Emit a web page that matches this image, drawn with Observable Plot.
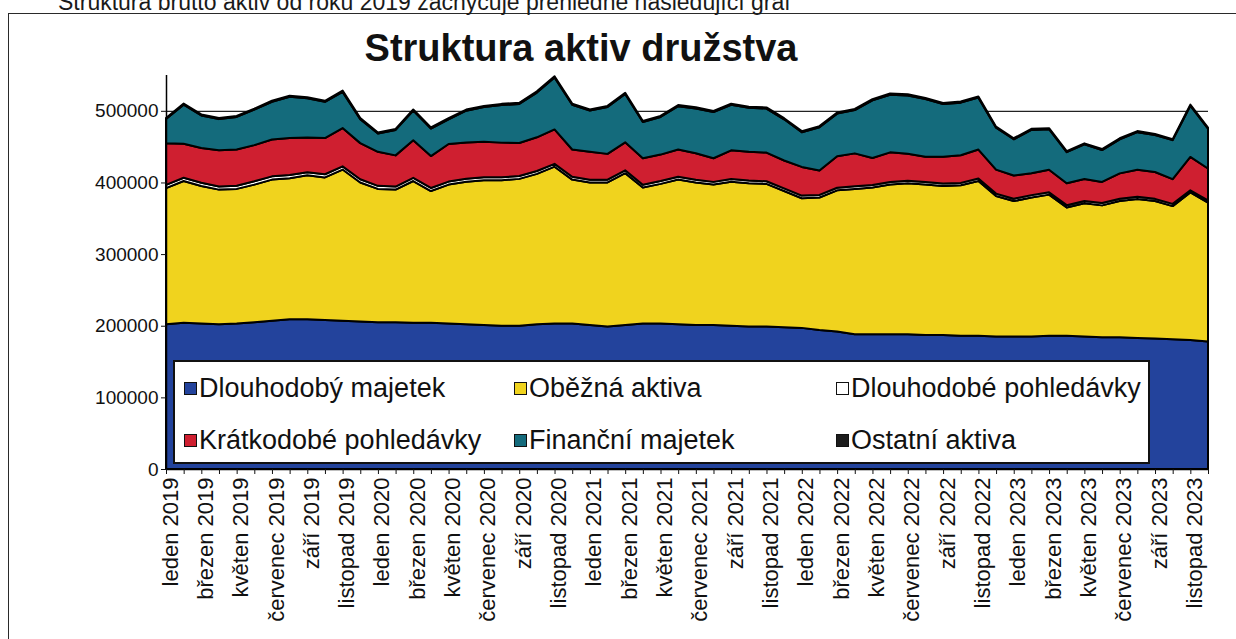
<!DOCTYPE html>
<html>
<head>
<meta charset="utf-8">
<script src="https://cdn.jsdelivr.net/npm/d3@7"></script>
<script src="https://cdn.jsdelivr.net/npm/@observablehq/plot@0.6"></script>
<style>
  html, body { margin: 0; padding: 0; }
  body { width: 1236px; height: 639px; overflow: hidden; background: #fff; position: relative;
         font-family: "Liberation Sans", Arial, sans-serif; color: #111; }
  #chart { position: absolute; left: 0; top: 0; }
  #intro { position: absolute; left: 58px; top: -9px; font-size: 23px; line-height: 1; white-space: nowrap; color: #1a1a1a; }
  #frame { position: absolute; left: 8px; top: 13px; width: 1300px; height: 700px; border: 1.5px solid #2a2a2a; pointer-events: none; }
  #title { position: absolute; left: 581px; top: 29px; transform: translateX(-50%); font-size: 38px; line-height: 1; font-weight: bold; white-space: nowrap; }
  #legend { position: absolute; left: 173px; top: 360px; width: 977px; height: 104px; background: #fff; border: 2px solid #111; box-sizing: border-box; }
  .item { position: absolute; display: flex; align-items: center; font-size: 27px; line-height: 30px; height: 30px; white-space: nowrap; }
  .sw { width: 11px; height: 11px; border: 1.5px solid #111; margin-right: 2px; }
</style>
</head>
<body>
<div id="chart"></div>
<div id="frame"></div>
<div id="intro">Struktura brutto aktiv od roku 2019 zachycuje přehledně následující graf</div>
<div id="title">Struktura aktiv družstva</div>
<div id="legend"></div>
<script>
// ---- Data ----
const monthNames = ["leden", "únor", "březen", "duben", "květen", "červen", "červenec", "srpen", "září", "říjen", "listopad", "prosinec"];
const years = [2019, 2020, 2021, 2022, 2023];
const categories = years.flatMap(y => monthNames.map(m => `${m} ${y}`));

const seriesNames = ["Dlouhodobý majetek", "Oběžná aktiva", "Dlouhodobé pohledávky", "Krátkodobé pohledávky", "Finanční majetek", "Ostatní aktiva"];
const seriesColors = ["#23439c", "#f0d31e", "#ffffff", "#cf1f30", "#146b7c", "#1c1c1c"];

const dlouhodobyMajetek = [
  202000, 204000, 203000, 202000, 203000, 205000, 207000, 209000, 209000, 208000,
  207000, 206000, 205000, 205000, 204000, 204000, 203000, 202000, 201000, 200000,
  200000, 202000, 203000, 203000, 201000, 199000, 201000, 203000, 203000, 202000,
  201000, 201000, 200000, 199000, 199000, 198000, 197000, 194000, 192000, 188000,
  188000, 188000, 188000, 187000, 187000, 186000, 186000, 185000, 185000, 185000,
  186000, 186000, 185000, 184000, 184000, 183000, 182000, 181000, 180000, 178000];
const obeznaAktiva = [
  190000, 198000, 192000, 188000, 188000, 192000, 197000, 197000, 201000, 199000,
  211000, 194000, 186000, 185000, 198000, 184000, 194000, 199000, 202000, 203000,
  205000, 210000, 219000, 201000, 199000, 201000, 212000, 190000, 195000, 202000,
  199000, 196000, 201000, 200000, 199000, 190000, 181000, 185000, 197000, 203000,
  205000, 209000, 211000, 210000, 208000, 210000, 216000, 196000, 189000, 194000,
  197000, 179000, 186000, 184000, 190000, 194000, 192000, 186000, 206000, 194000];
const dlouhodobePohledavky = [
  4600, 4500, 4500, 4400, 4500, 4600, 4500, 4500, 4400, 4500,
  4500, 4400, 4300, 4300, 4400, 4300, 4200, 4200, 4200, 4100,
  4100, 4000, 4000, 4000, 3900, 3900, 4000, 3900, 3900, 3900,
  3800, 3800, 3800, 3800, 3700, 3700, 3700, 3600, 3600, 3600,
  3600, 3500, 3500, 3500, 3500, 3400, 3400, 3400, 3300, 3300,
  3300, 3300, 3200, 3200, 3200, 3200, 3100, 3100, 3100, 3000];
const kratkodobePohledavky = [
  58000, 47500, 48500, 50500, 50500, 50500, 51500, 51500, 48500, 50500,
  53500, 50500, 47500, 43500, 52500, 44500, 52500, 50500, 49500, 48500,
  46000, 47000, 48000, 38000, 39000, 36000, 39000, 37000, 37000, 38000,
  37000, 33000, 40000, 40000, 40000, 39000, 40000, 34000, 44000, 46000,
  37500, 41500, 37500, 35500, 37500, 38500, 40500, 33500, 32500, 30500,
  31500, 30500, 30500, 29500, 35500, 37500, 37500, 34500, 46500, 44500];
const financniMajetek = [
  34000, 54500, 45500, 43500, 45500, 49500, 52500, 57500, 54500, 50500,
  50500, 33500, 25500, 35500, 41500, 38500, 34500, 44500, 48500, 52500,
  54500, 62500, 72500, 62500, 57500, 65500, 67500, 50500, 52500, 60500,
  62500, 64500, 63500, 61500, 61500, 57500, 48500, 60500, 59500, 60500,
  80500, 80500, 81500, 80500, 73500, 73500, 72500, 58500, 50500, 60500,
  56500, 43500, 48500, 44500, 47500, 52500, 51500, 54500, 71500, 55500];
const ostatniAktiva = [
  1500, 1600, 1500, 1500, 1400, 1500, 1600, 1600, 1500, 1500,
  1700, 1500, 1400, 1400, 1500, 1400, 1500, 1500, 1600, 1600,
  1600, 1700, 1800, 1600, 1500, 1500, 1600, 1500, 1500, 1600,
  1600, 1500, 1600, 1500, 1500, 1500, 1400, 1500, 1500, 1600,
  1600, 1600, 1600, 1500, 1500, 1500, 1600, 1500, 1400, 1500,
  1500, 1400, 1400, 1400, 1500, 1500, 1500, 1400, 1600, 1500];

const yTicks = [0, 100000, 200000, 300000, 400000, 500000];

// ---- Tidy table for Plot ----
const seriesValues = [dlouhodobyMajetek, obeznaAktiva, dlouhodobePohledavky, kratkodobePohledavky, financniMajetek, ostatniAktiva];
const table = [];
seriesNames.forEach((s, k) => seriesValues[k].forEach((v, i) => table.push({i, series: s, value: v})));
const allIdx = categories.map((_, i) => i);
const labelIdx = allIdx.filter(i => i % 2 === 0);

const chart = Plot.plot({
  width: 1236,
  height: 639,
  marginLeft: 166,
  marginRight: 28,
  marginTop: 75,
  marginBottom: 170,
  style: {fontFamily: '"Liberation Sans", Arial, sans-serif', background: "transparent", color: "#111"},
  x: {type: "linear", domain: [0, categories.length - 1]},
  y: {domain: [0, 550000]},
  color: {domain: seriesNames, range: seriesColors},
  marks: [
    Plot.ruleY(yTicks.filter(d => d > 0), {stroke: "#222", strokeWidth: 1.2}),
    Plot.areaY(table, {x: "i", y: "value", z: "series", fill: "series", order: seriesNames,
                       stroke: "#000", strokeWidth: 2, strokeLinejoin: "round"}),
    Plot.ruleX([0], {y1: 0, y2: 550000, stroke: "#000", strokeWidth: 1.5}),
    Plot.ruleY([0], {stroke: "#000", strokeWidth: 1.5}),
    Plot.axisY({ticks: yTicks, tickSize: 5, tickPadding: 3, fontSize: 19, tickFormat: d => String(d), label: null}),
    Plot.axisX({ticks: allIdx, tickSize: 5, tickFormat: () => "", label: null}),
    Plot.axisX({ticks: labelIdx, tickSize: 0, tickPadding: 8, tickRotate: -90, fontSize: 22, dx: 4,
                tickFormat: i => categories[i], label: null})
  ]
});
document.getElementById("chart").appendChild(chart);

// ---- Legend (overlay box, as in the reference) ----
const legendPos = [
  [9, 11], [339, 11], [661, 11],
  [9, 63], [339, 63], [661, 63]
];
const legend = document.getElementById("legend");
seriesNames.forEach((name, k) => {
  const it = document.createElement("div");
  it.className = "item";
  it.style.left = legendPos[k][0] + "px";
  it.style.top = legendPos[k][1] + "px";
  const sw = document.createElement("span");
  sw.className = "sw";
  sw.style.background = seriesColors[k];
  it.appendChild(sw);
  it.appendChild(document.createTextNode(name));
  legend.appendChild(it);
});
</script>
</body>
</html>
